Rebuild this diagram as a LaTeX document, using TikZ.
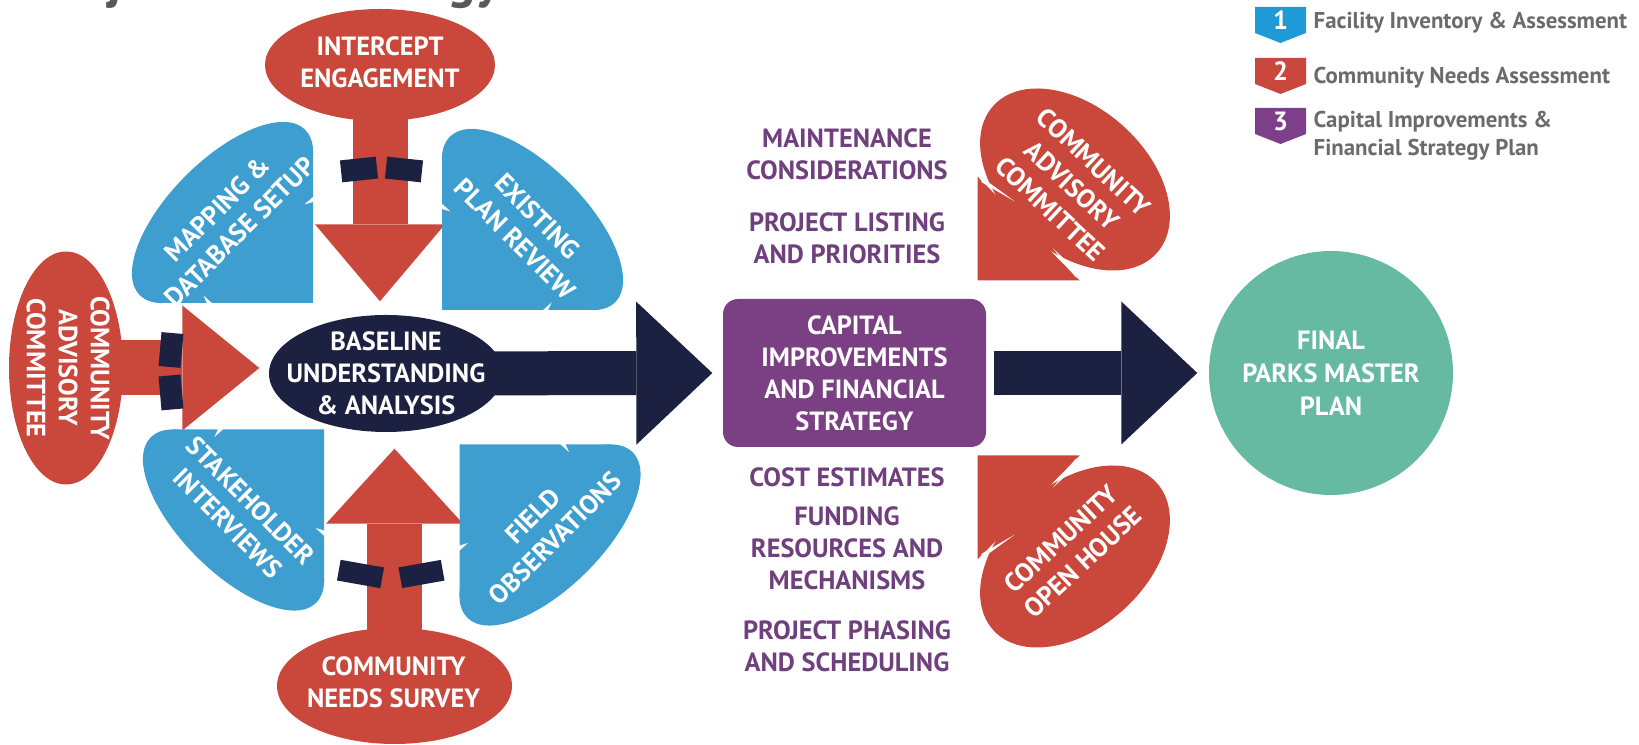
\documentclass[tikz,border=0pt]{standalone}
\usepackage{fontspec}
\setmainfont{PT Sans}
\usetikzlibrary{shapes.geometric,arrows.meta,backgrounds}
\definecolor{cred}{HTML}{C9473B}
\definecolor{leafblue}{HTML}{3D9ECF}
\definecolor{navy}{HTML}{1C2141}
\definecolor{boxpurple}{HTML}{7B3F84}
\definecolor{txtpurple}{HTML}{6F3F7E}
\definecolor{parkteal}{HTML}{67BAA2}
\definecolor{leggrey}{HTML}{6B6B6E}
\definecolor{legblue}{HTML}{1E9BD7}
\definecolor{legpurple}{HTML}{7D3E8A}
\definecolor{headgrey}{HTML}{58595B}

\begin{document}
\begin{tikzpicture}[every node/.style={font=\fontsize{7.5}{9.1}\selectfont\bfseries,text=white,align=center,inner sep=0pt}]
\tikzset{redell/.style={ellipse,fill=cred},ptxt/.style={text=txtpurple},
  leg/.style={anchor=west,align=left,text=leggrey,font=\fontsize{6.5}{8}\selectfont\bfseries},
  redarr/.style={draw=cred,line width=5.5mm},
  navyarr/.style={draw=navy,line width=4.4mm,-{Triangle[length=7.6mm,width=14.3mm,line width=0pt]}},
  tile/.style={fill=navy}}
\useasboundingbox (0,0) rectangle (16.39,7.45);
\node[anchor=base west,text=headgrey,font=\fontsize{15}{18}\selectfont\bfseries] (head) at (0.31,7.47) {Project Methodology};

% blue leaves: corner at bottom right, mirrored into place
\foreach \cx/\cy/\sx/\sy/\nm/\txt in {2.225/5.325/1/1/map/{MAPPING \&\\DATABASE SETUP},5.325/5.255/-1/1/exist/{EXISTING\\PLAN REVIEW},2.335/2.25/1/-1/stake/{STAKEHOLDER\\INTERVIEWS},5.50/2.10/-1/-1/field/{FIELD\\OBSERVATIONS}}{
  \begin{scope}[shift={(\cx,\cy)},xscale=\sx,yscale=\sy]
  \fill[leafblue,rotate=45] (0,0) ellipse [x radius=1.17,y radius=0.52];
  \fill[leafblue] (0.905,-0.905) -- (0.905,0.606) -- (0,0) -- (-0.606,-0.905) -- cycle;
  \fill[white] (0.92,0.17) -- (0.92,0.11) -- (0.82,0.08) -- cycle;
  \fill[white] (-0.09,-0.92) -- (-0.15,-0.92) -- (-0.19,-0.83) -- cycle;
  \node[rotate=45*\sx*\sy] (\nm) at (0.06,-0.08) {\txt};
  \end{scope}}

% baseline and the red inputs
\node[ellipse,fill=navy,minimum width=2.34cm,minimum height=1.17cm] (base) at (3.86,3.715) {};
\node (basetxt) at (base) {BASELINE\\UNDERSTANDING\\\& ANALYSIS};
\node[redell,minimum width=2.3cm,minimum height=1.12cm] (icpt) at (3.80,6.80) {};
\node (icpttxt) at (3.80,6.83) {INTERCEPT\\ENGAGEMENT};
\node[redell,minimum width=2.35cm,minimum height=1.16cm] (svy) at (3.945,0.59) {};
\node (svytxt) at (3.935,0.625) {COMMUNITY\\NEEDS SURVEY};
\node[redell,minimum width=1.14cm,minimum height=2.33cm] (cac) at (0.66,3.77) {};
\node[rotate=-90] (cactxt) at (0.68,3.77) {COMMUNITY\\ADVISORY\\COMMITTEE};

% committee and open house, the lower one mirrored
\foreach \yc/\s/\nm/\txt in {5.655/1/cacr/{COMMUNITY\\ADVISORY\\COMMITTEE},1.885/-1/open/{COMMUNITY\\OPEN HOUSE}}{
  \begin{scope}[shift={(10.75,\yc)},yscale=\s]
  \fill[cred,rotate=-42] (0,0) ellipse [x radius=1.10,y radius=0.72];
  \fill[cred] (-0.975,-1.01) -- (-0.975,0.03) -- (0.045,-1.01) -- cycle;
  \fill[white] (-0.96,0.04) -- (-0.93,-0.03) -- (-0.60,-0.22) -- cycle;
  \fill[white] (0.06,-0.95) -- (0.01,-0.98) -- (-0.22,-0.69) -- cycle;
  \node[rotate=-43*\s] (\nm) at (-0.03,-0.06) {\txt};
  \end{scope}}

\node[fill=boxpurple,rounded corners=0.15cm,minimum width=2.63cm,minimum height=1.48cm] (cap) at (8.545,3.72) {CAPITAL\\IMPROVEMENTS\\AND FINANCIAL\\STRATEGY};
\node[circle,fill=parkteal,minimum size=2.44cm,font=\fontsize{7.5}{9.4}\selectfont\bfseries] (fin) at (13.31,3.72) {FINAL\\PARKS MASTER\\PLAN};
\node[ptxt] (maint) at (8.47,5.91) {MAINTENANCE\\CONSIDERATIONS};
\node[ptxt] (plist) at (8.47,5.065) {PROJECT LISTING\\AND PRIORITIES};
\node[ptxt] (cost) at (8.47,2.68) {COST ESTIMATES};
\node[ptxt] (fund) at (8.47,1.97) {FUNDING\\RESOURCES AND\\MECHANISMS};
\node[ptxt] (phase) at (8.47,0.99) {PROJECT PHASING\\AND SCHEDULING};

% legend
\foreach \n/\col/\yt in {1/legblue/7.38,2/cred/6.87,3/legpurple/6.37}{
  \fill[\col] (12.55,\yt) -- (13.06,\yt) -- (13.06,\yt-0.26) -- (12.805,\yt-0.36) -- (12.55,\yt-0.26) -- cycle;
  \node[font=\fontsize{7.5}{9}\selectfont\bfseries] (badge\n) at (12.805,\yt-0.135) {\n};}
\node[leg] (leg1) at (13.13,7.22) {Facility Inventory \& Assessment};
\node[leg] (leg2) at (13.13,6.67) {Community Needs Assessment};
\node[leg] (leg3) at (13.13,6.09) {Capital Improvements \&\\Financial Strategy Plan};

\begin{scope}[on background layer]
\draw[redarr,shorten >=1.3mm,-{Triangle[length=7.7mm,width=13mm,line width=0pt]}] (icpt.center) -- (icpt |- base.north);
\draw[redarr,shorten >=0.9mm,-{Triangle[length=7.7mm,width=12.5mm,line width=0pt]}] (cac.center) -- (cac -| base.west);
\draw[redarr,shorten >=1.6mm,-{Triangle[length=7.5mm,width=13.7mm,line width=0pt]}] (svy.center) -- (svy |- base.south);
\draw[navyarr,shorten >=1mm] (base.center) -- (cap.west);
\draw[navyarr,shorten <=0.7mm,shorten >=1.1mm] (cap.east) -- (fin.west);
\end{scope}

% breaks on the red stems
\fill[tile,rotate around={6:(3.59,5.755)}] (3.41,5.645) rectangle (3.77,5.865);
\fill[tile,rotate around={-6:(4.04,5.755)}] (3.86,5.645) rectangle (4.22,5.865);
\fill[tile,rotate around={-10:(3.605,1.71)}] (3.385,1.605) rectangle (3.825,1.815);
\fill[tile,rotate around={10:(4.215,1.71)}] (4.00,1.605) rectangle (4.43,1.815);
\fill[tile,rotate around={-5:(1.71,3.95)}] (1.60,3.78) rectangle (1.82,4.12);
\fill[tile,rotate around={5:(1.71,3.525)}] (1.60,3.355) rectangle (1.82,3.695);
\end{tikzpicture}
\end{document}
